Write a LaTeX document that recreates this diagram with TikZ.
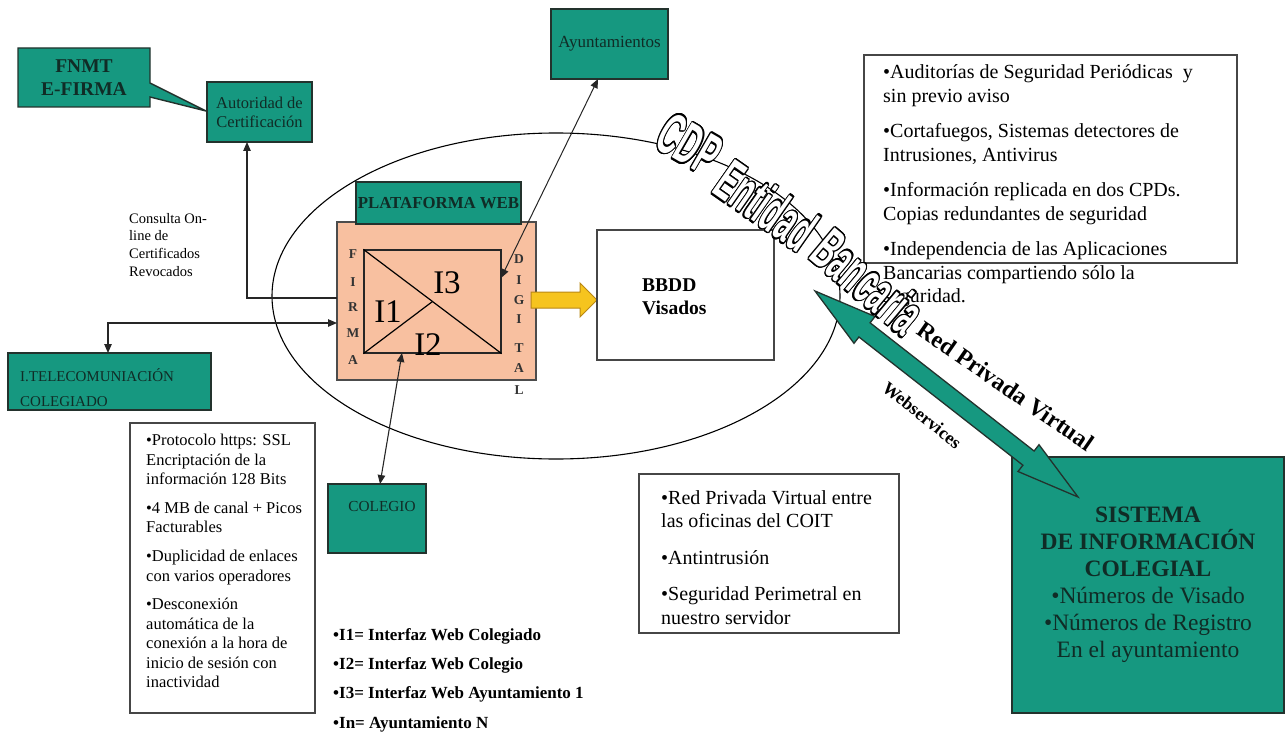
\documentclass[tikz,border=0pt]{standalone}
\usepackage{fontspec}
\setmainfont{Liberation Serif}
\newfontfamily\cdpfont{Liberation Sans}
\usepackage{graphicx}
\usepackage{contour}
\contourlength{0.85pt}
\usetikzlibrary{arrows.meta,calc}
\definecolor{teal1}{RGB}{22,152,128}
\definecolor{tealtext}{RGB}{16,44,38}
\definecolor{boxline}{RGB}{35,50,45}
\definecolor{peach}{RGB}{248,192,160}
\definecolor{gold}{RGB}{246,196,30}
\definecolor{goldline}{RGB}{185,135,20}
\definecolor{grayline}{RGB}{70,70,70}
\newcommand\cdpword[1]{\contour{black}{\textcolor{white}{#1}}}
\tikzset{
  tealbox/.style={draw=boxline, fill=teal1, line width=1.4pt, text=tealtext, inner sep=0pt, align=center},
  textbox/.style={draw=grayline, line width=1.4pt, fill=white, inner sep=0pt},
  txt/.style={inner sep=0pt, anchor=base west, align=left},
  conn/.style={line width=1.1pt, draw=black!85},
  letter/.style={inner sep=0pt, font=\fontsize{13.5}{13.5}\selectfont\bfseries, text=black!80},
  ilabel/.style={inner sep=0pt, font=\fontsize{33}{33}\selectfont},
  >={Triangle[length=9pt,width=7.5pt]}
}
\begin{document}
\begin{tikzpicture}[x=1pt,y=-1pt]
\useasboundingbox (0,0) rectangle (1285,733);

% ellipse
\draw[line width=1.1pt] (556,296) ellipse [x radius=284, y radius=163];

% FNMT callout
\path[draw=boxline, fill=teal1, line width=1.4pt] (18,48) -- (150,48) -- (150,83) -- (206,111) -- (150,97) -- (150,107) -- (18,107) -- cycle;
\node[inner sep=0pt, font=\fontsize{19.5}{23}\selectfont\bfseries, text=tealtext, align=center] (fnmt) at (84,78) {FNMT\\E-FIRMA};

% Autoridad
\node[tealbox, minimum width=105pt, minimum height=60pt, font=\fontsize{16.5}{19}\selectfont] (auto) at (259.5,112) {Autoridad de\\Certificación};

% Ayuntamientos
\node[tealbox, minimum width=117pt, minimum height=70pt, font=\fontsize{17}{19}\selectfont] (ayunt) at (609.5,44) {Ayuntamientos};

% platform
\node[draw=black!70, fill=peach, line width=1.3pt, minimum width=199pt, minimum height=158pt, inner sep=0pt] (firma) at (436.5,301) {};
\node[tealbox, minimum width=165pt, minimum height=42pt, font=\fontsize{16.8}{18}\selectfont\bfseries] (plat) at (438.5,203) {PLATAFORMA WEB};
\node[draw=black!85, line width=1.2pt, minimum width=137pt, minimum height=103pt, inner sep=0pt] (inner) at (432.5,301.5) {};
\draw[line width=1.2pt] (inner.north west) -- (inner.south east);
\draw[line width=1.2pt] (inner.south west) -- (inner.center);
\node[ilabel] (i3) at (447,283) {I3};
\node[ilabel] (i1) at (388,312) {I1};
\node[ilabel] (i2) at (428,345) {I2};

\foreach \l/\y in {F/254,I/282,R/307,M/333,A/360}
  \node[letter] (f\y) at (353,\y) {\l};
\foreach \l/\y in {D/259,I/280,G/300,I/319,T/348,A/368,L/390}
  \node[letter] (d\y) at (519,\y) {\l};

% yellow arrow
\path[fill=gold, draw=goldline, line width=1pt] (531,292) -- (580,292) -- (580,283) -- (597,300) -- (580,317) -- (580,308) -- (531,308) -- cycle;

% BBDD
\node[textbox, minimum width=177pt, minimum height=130pt] (bbdd) at (685.5,295) {};
\node[inner sep=0pt, anchor=west, align=left, font=\fontsize{19.5}{23}\selectfont\bfseries] (bbddtxt) at (642,296.5) {BBDD\\Visados};

% Consulta (anchor = baseline of last line)
\node[txt, font=\fontsize{14.5}{17.6}\selectfont] (consulta) at (129,276) {Consulta On-\\line de\\Certificados\\Revocados};

% Telecom
\node[tealbox, minimum width=203pt, minimum height=57pt] (tele) at (109.5,381.5) {};
\node[txt, font=\fontsize{15}{25}\selectfont, text=tealtext] (teletxt) at (20,406.5) {I.TELECOMUNIACIÓN\\COLEGIADO};

% Protocolo box
\node[textbox, minimum width=185pt, minimum height=290pt] (proto) at (222.5,568) {};
\node[txt, font=\fontsize{16.5}{19.4}\selectfont] (prototxt) at (146,687.5) {•Protocolo https: SSL\\Encriptación de la\\información 128 Bits\\[9.5pt]•4 MB de canal + Picos\\Facturables\\[9.5pt]•Duplicidad de enlaces\\con varios operadores\\[9.5pt]•Desconexión\\automática de la\\conexión a la hora de\\inicio de sesión con\\inactividad};

% COLEGIO
\node[tealbox, minimum width=98pt, minimum height=69pt] (coleg) at (377,518.5) {};
\node[inner sep=0pt, font=\fontsize{15.3}{16}\selectfont, text=tealtext] (colegtxt) at (382,507) {COLEGIO};

% Legend
\node[txt, font=\fontsize{17}{29.3}\selectfont\bfseries] (legend) at (333,728) {•I1= Interfaz Web Colegiado\\•I2= Interfaz Web Colegio\\•I3= Interfaz Web Ayuntamiento 1\\•In= Ayuntamiento N};

% Red box
\node[textbox, minimum width=260pt, minimum height=159pt] (redbox) at (769,553.5) {};
\node[txt, font=\fontsize{20}{23.2}\selectfont] (redtxt) at (661,624) {•Red Privada Virtual entre\\las oficinas del COIT\\[13.5pt]•Antintrusión\\[13.5pt]•Seguridad Perimetral en\\nuestro servidor};

% Audit box
\node[textbox, minimum width=373pt, minimum height=208pt] (audit) at (1050.5,159) {};
\node[txt, font=\fontsize{20}{23.5}\selectfont] (audittxt) at (883,302.5) {•Auditorías de Seguridad Periódicas\ \ y\\sin previo aviso\\[12pt]•Cortafuegos, Sistemas detectores de\\Intrusiones, Antivirus\\[12pt]•Información replicada en dos CPDs.\\Copias redundantes de seguridad\\[12pt]•Independencia de las Aplicaciones\\Bancarias compartiendo sólo la\\seguridad.};

% Sistema
\node[tealbox, minimum width=272pt, minimum height=256pt, font=\fontsize{23.5}{27}\selectfont] (sis) at (1148,585) {\textbf{SISTEMA}\\\textbf{DE INFORMACIÓN}\\\textbf{COLEGIAL}\\•Números de Visado\\•Números de Registro\\En el ayuntamiento};

% green double arrow
\path[fill=teal1, draw=boxline, line width=1.3pt] (815,291) -- (875.0,316.5) -- (870.1,322.8) -- (1034.1,451.0) -- (1039.0,444.7) -- (1078,497) -- (1018.0,471.5) -- (1022.9,465.2) -- (858.9,337.0) -- (854.0,343.3) -- cycle;

% connectors
\coordinate (ayS) at (598,79);
\coordinate (i3in) at (501,278);
\draw[conn, line width=1pt, <->] (ayS) -- (i3in);
\coordinate (i2in) at (402,353);
\coordinate (colN) at (380,484);
\draw[conn, <->] (i2in) -- (colN);
\coordinate (fw1) at (337,298);
\coordinate (acS) at (247,142);
\draw[conn, ->] (fw1) -| (acS);
\coordinate (fw2) at (337,323);
\coordinate (teleN) at (108,353);
\draw[conn, <->] (teleN) |- (fw2);

% CDP outlined text
\node[rotate=-30, inner sep=0pt] (cdp1) at (689,145) {\scalebox{1.05}[2.1]{\cdpfont\fontsize{28}{28}\selectfont\bfseries\cdpword{CDP}}};
\node[rotate=-35, inner sep=0pt] (cdp2) at (766,206) {\scalebox{1.05}[2.1]{\cdpfont\fontsize{28}{28}\selectfont\bfseries\cdpword{Entidad}}};
\node[rotate=-40, inner sep=0pt] (cdp3) at (868,282) {\scalebox{1.05}[2.1]{\cdpfont\fontsize{28}{28}\selectfont\bfseries\cdpword{Bancaria}}};

% rotated labels
\node[rotate=-34.7, inner sep=0pt, font=\fontsize{24}{24}\selectfont\bfseries] (rpv) at (1006,386) {Red Privada Virtual};
\node[rotate=-38.6, inner sep=0pt, font=\fontsize{18}{18}\selectfont\bfseries] (ws) at (922,415) {Webservices};
\end{tikzpicture}
\end{document}
